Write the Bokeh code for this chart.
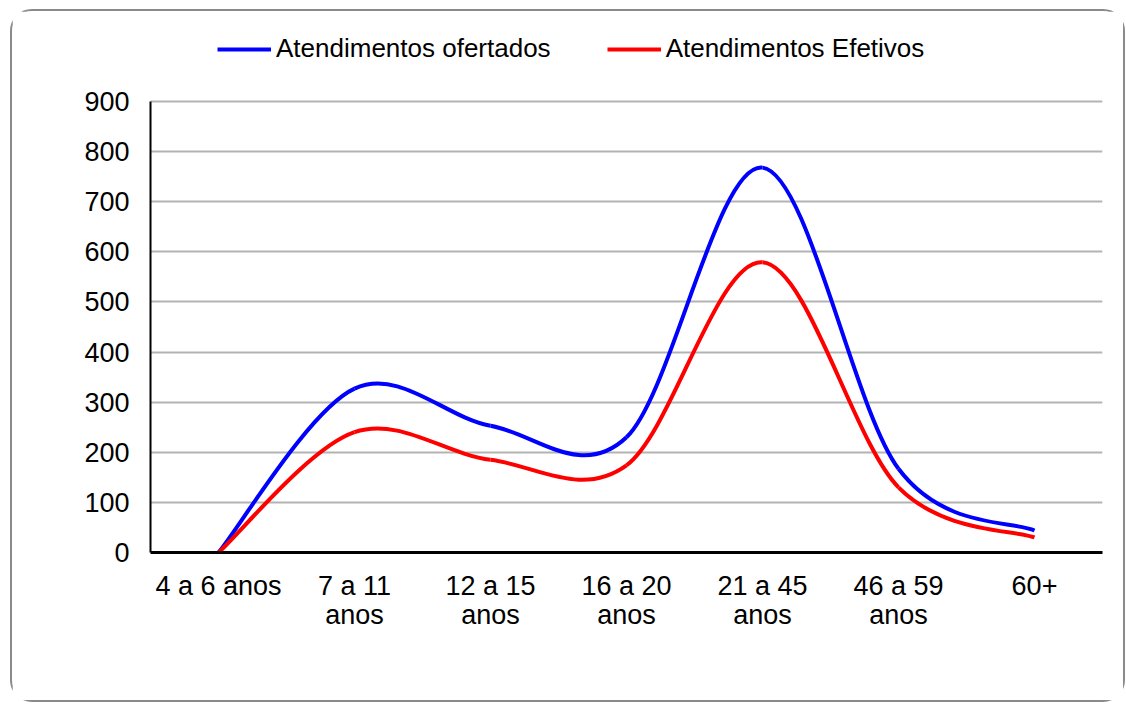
from bokeh.plotting import figure
from bokeh.models import (FixedTicker, Range1d, Legend, LegendItem)
from bokeh.embed import file_html
from bokeh.resources import INLINE

categories = ["4 a 6 anos", "7 a 11\nanos", "12 a 15\nanos", "16 a 20\nanos",
              "21 a 45\nanos", "46 a 59\nanos", "60+"]
ofertados = [0, 327, 253, 230, 768, 167, 44]
efetivos = [0, 240, 185, 174, 579, 130, 30]
y_ticks = [0, 100, 200, 300, 400, 500, 600, 700, 800, 900]
series_names = ["Atendimentos ofertados", "Atendimentos Efetivos"]
series_colors = ["#0000FF", "#FF0000"]

FONT = "Liberation Sans"

# frame extends above the value axis to host the legend (axis itself is bounded to 0..900)
p = figure(width=1111, height=689, output_backend="svg", toolbar_location=None,
           x_range=Range1d(-0.5, 6.5), y_range=Range1d(0, 1061.6),
           min_border_left=138, min_border_right=25, min_border_top=9,
           min_border_bottom=152)
p.outline_line_color = None
p.background_fill_color = "white"
p.border_fill_color = "white"
p.xgrid.visible = False
p.ygrid.grid_line_color = "#b3b3b3"
p.ygrid.grid_line_width = 2
p.ygrid.ticker = FixedTicker(ticks=y_ticks)
p.ygrid.bounds = (-0.5, 6.5)

# axes
p.yaxis.ticker = FixedTicker(ticks=y_ticks)
p.yaxis.bounds = (0, 900)
p.yaxis.axis_line_color = "black"
p.yaxis.axis_line_width = 2
p.yaxis.major_tick_line_color = None
p.yaxis.minor_tick_line_color = None
p.yaxis.major_tick_in = 0
p.yaxis.major_tick_out = 0
p.yaxis.major_label_standoff = 21
p.yaxis.major_label_text_font = FONT
p.yaxis.major_label_text_font_size = "27px"
p.yaxis.major_label_text_color = "black"

xs = list(range(len(categories)))
p.xaxis.ticker = FixedTicker(ticks=xs)
p.xaxis.major_label_overrides = {i: c for i, c in enumerate(categories)}
p.xaxis.axis_line_color = "black"
p.xaxis.axis_line_width = 3
p.xaxis.major_tick_line_color = None
p.xaxis.minor_tick_line_color = None
p.xaxis.major_tick_in = 0
p.xaxis.major_tick_out = 0
p.xaxis.major_label_standoff = 18
p.xaxis.major_label_text_font = FONT
p.xaxis.major_label_text_font_size = "27px"
p.xaxis.major_label_text_line_height = 0.97
p.xaxis.major_label_text_color = "black"


def smooth_segments(x, y):
    n = len(x)
    segs = dict(x0=[], y0=[], x1=[], y1=[], cx0=[], cy0=[], cx1=[], cy1=[])
    for i in range(n - 1):
        xm, ym = (x[i - 1], y[i - 1]) if i > 0 else (x[i], y[i])
        xp, yp = (x[i + 2], y[i + 2]) if i + 2 < n else (x[i + 1], y[i + 1])
        segs["x0"].append(x[i]); segs["y0"].append(y[i])
        segs["x1"].append(x[i + 1]); segs["y1"].append(y[i + 1])
        segs["cx0"].append(x[i] + (x[i + 1] - xm) / 6.0)
        segs["cy0"].append(y[i] + (y[i + 1] - ym) / 6.0)
        segs["cx1"].append(x[i + 1] - (xp - x[i]) / 6.0)
        segs["cy1"].append(y[i + 1] - (yp - y[i]) / 6.0)
    return segs


items = []
for vals, name, col in zip([ofertados, efetivos], series_names, series_colors):
    s = smooth_segments(xs, vals)
    p.bezier(x0="x0", y0="y0", x1="x1", y1="y1", cx0="cx0", cy0="cy0",
             cx1="cx1", cy1="cy1", source=s, line_color=col, line_width=4)
    # single-point line: draws nothing in the plot, provides the legend swatch
    lr = p.line(x=[xs[0]], y=[vals[0]], line_color=col, line_width=4)
    items.append(LegendItem(label=name, renderers=[lr]))

legend = Legend(items=items, orientation="horizontal", location=(67, 488),
                padding=0, margin=0, spacing=56, glyph_width=54, glyph_height=26,
                label_height=26, label_standoff=5,
                label_text_font=FONT, label_text_font_size="26px",
                label_text_color="black", border_line_color=None,
                background_fill_alpha=0)
p.add_layout(legend, "center")

p.styles = {"border": "2px solid #8a8a8a", "border-radius": "22px",
            "box-sizing": "content-box",
            "margin-left": "10px", "margin-top": "9px"}

open("out.html", "w").write(file_html(p, INLINE))
